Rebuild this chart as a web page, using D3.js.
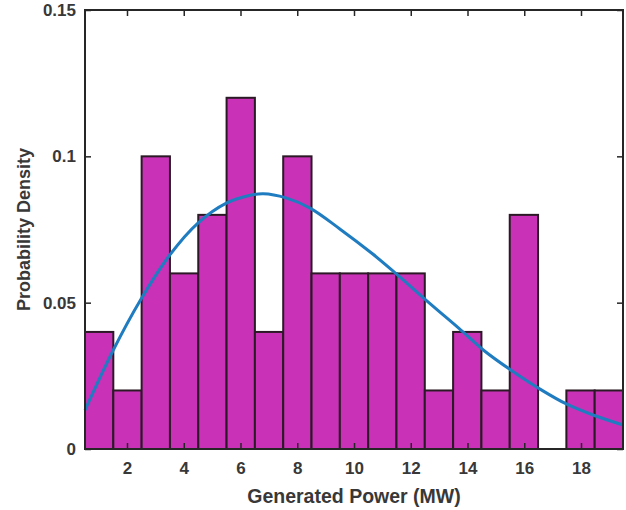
<!DOCTYPE html>
<html lang="en">
<head>
	<meta charset="UTF-8">
	<title>Generated Power Histogram</title>
	<script src="https://cdn.jsdelivr.net/npm/d3@7"></script>
	<style>
		body { margin: 0; background: #fff; }
		text { font-family: "Liberation Sans", Arial, sans-serif; font-weight: bold; fill: #383838; }
		.bar { fill: #c932b6; stroke: #2b1a26; stroke-width: 2; }
		.fit { fill: none; stroke: #1f7cc0; stroke-width: 3; }
		.frame { fill: none; stroke: #262626; stroke-width: 2; }
	</style>
</head>
<body>
<script type="text/javascript">

	// histogram: 19 equal bins between binLo and binHi
	var binLo = 0.52, binHi = 19.48;
	var density = [0.04, 0.02, 0.10, 0.06, 0.08, 0.12, 0.04, 0.10, 0.06, 0.06,
		0.06, 0.06, 0.02, 0.04, 0.02, 0.08, 0, 0.02, 0.02];

	// fitted curve
	var fitX = [0.52, 1.5, 2.45, 3.5, 4.5, 5.5, 6.3, 6.8, 7.6, 8.45, 9.5, 10.65,
		11.4, 12.7, 13.7, 14.6, 15.6, 16.6, 17.5, 18.4, 19.48];
	var fitY = [0.0133, 0.0335, 0.0505, 0.0662, 0.0772, 0.0840, 0.0866, 0.0872, 0.0858, 0.0823, 0.0752, 0.0667,
		0.0606, 0.0495, 0.0412, 0.0335, 0.0265, 0.0202, 0.0153, 0.0117, 0.0082];

	var xTicks = [2, 4, 6, 8, 10, 12, 14, 16, 18];
	var yTicks = [0, 0.05, 0.1, 0.15];

	var margin = {top: 10, right: 3, bottom: 61, left: 85};
	var W = 626, H = 510;
	var width = W - margin.left - margin.right,
		height = H - margin.top - margin.bottom;

	var svg = d3.select('body').append('svg')
		.attr('width', W)
		.attr('height', H);
	var g = svg.append('g')
		.attr('transform', 'translate(' + margin.left + ',' + margin.top + ')');

	var x = d3.scaleLinear().domain([binLo, binHi]).range([0, width]);
	var y = d3.scaleLinear().domain([0, 0.15]).range([height, 0]);

	var step = (binHi - binLo) / density.length;
	var bins = density.map(function (d, i) {
		return {x0: binLo + i * step, x1: binLo + (i + 1) * step, v: d};
	}).filter(function (b) { return b.v > 0; });

	g.selectAll('.bar')
		.data(bins)
		.enter().append('rect')
		.attr('class', 'bar')
		.attr('x', function (d) { return x(d.x0); })
		.attr('y', function (d) { return y(d.v); })
		.attr('width', function (d) { return x(d.x1) - x(d.x0); })
		.attr('height', function (d) { return height - y(d.v); });

	var line = d3.line()
		.x(function (d) { return x(d[0]); })
		.y(function (d) { return y(d[1]); })
		.curve(d3.curveCatmullRom.alpha(0.5));

	g.append('path')
		.attr('class', 'fit')
		.attr('d', line(d3.zip(fitX, fitY)));

	// axes with inward ticks, mirrored on top and right
	function styleAxis(sel) {
		sel.select('.domain').remove();
		sel.selectAll('line').attr('stroke', '#262626').attr('stroke-width', 1.5);
		sel.selectAll('text').attr('font-size', 17).attr('fill', '#383838')
			.style('font-family', '"Liberation Sans", Arial, sans-serif').style('font-weight', 'bold');
	}

	g.append('g')
		.attr('transform', 'translate(0,' + height + ')')
		.call(d3.axisBottom(x).tickValues(xTicks).tickSizeInner(-6).tickSizeOuter(0).tickPadding(13))
		.call(styleAxis);

	g.append('g')
		.call(d3.axisLeft(y).tickValues(yTicks).tickSizeInner(-6).tickSizeOuter(0).tickPadding(9)
			.tickFormat(function (d) { return d === 0 ? '0' : String(d); }))
		.call(styleAxis);

	g.append('g')
		.call(d3.axisTop(x).tickValues(xTicks).tickSizeInner(-6).tickSizeOuter(0).tickFormat(''))
		.call(styleAxis);

	g.append('g')
		.attr('transform', 'translate(' + width + ',0)')
		.call(d3.axisRight(y).tickValues(yTicks).tickSizeInner(-6).tickSizeOuter(0).tickFormat(''))
		.call(styleAxis);

	g.append('rect')
		.attr('class', 'frame')
		.attr('width', width)
		.attr('height', height);

	g.append('text')
		.attr('x', width / 2)
		.attr('y', height + 54)
		.attr('text-anchor', 'middle')
		.attr('font-size', 19.5)
		.text('Generated Power (MW)');

	g.append('text')
		.attr('transform', 'translate(' + (-55) + ',' + (height / 2) + ') rotate(-90)')
		.attr('text-anchor', 'middle')
		.attr('font-size', 18)
		.text('Probability Density');

</script>
</body>
</html>
